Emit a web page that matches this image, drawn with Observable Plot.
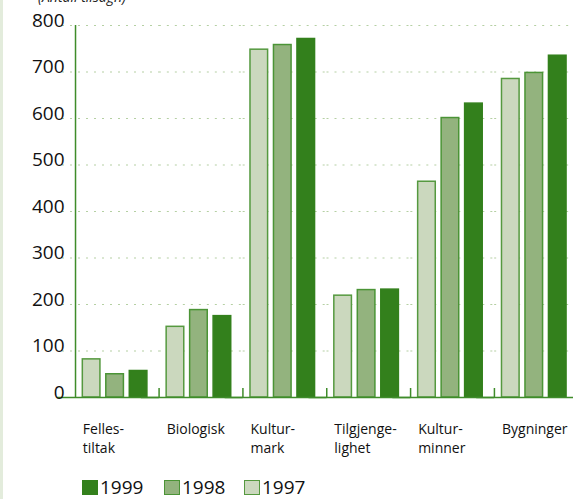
<!DOCTYPE html>
<html>
<head>
<meta charset="utf-8">
<script src="https://cdn.jsdelivr.net/npm/d3@7"></script>
<script src="https://cdn.jsdelivr.net/npm/@observablehq/plot@0.6"></script>
<style>
  html, body { margin: 0; padding: 0; background: #fff; }
  body { width: 573px; height: 499px; position: relative; overflow: hidden; font-family: "Open Sans", sans-serif; }
  #strip { position: absolute; left: 0; top: 0; width: 3px; height: 499px; background: #e3ecdc; }
  #title { position: absolute; left: 38px; top: -10px; font-size: 14px; line-height: 14px; font-style: italic; color: #222; white-space: nowrap; }
  #chart { position: absolute; left: 0; top: 0; }
  #legend { position: absolute; left: 82px; top: 477px; display: flex; font-size: 19px; line-height: 20px; color: #111; }
  .item { display: flex; align-items: center; }
  .sw { width: 16px; height: 15px; margin-right: 2px; box-sizing: border-box; border: 1.5px solid #4b9436; }
</style>
</head>
<body>
<div id="strip"></div>
<div id="chart"></div>
<div id="title">(Antall tilsagn)</div>
<div id="legend"></div>
<script>
const categories = ["Felles-tiltak", "Biologisk", "Kultur-mark", "Tilgjenge-lighet", "Kultur-minner", "Bygninger"];
const categoryLabels = ["Felles-\ntiltak", "Biologisk", "Kultur-\nmark", "Tilgjenge-\nlighet", "Kultur-\nminner", "Bygninger"];
const years = [1997, 1998, 1999];
const values1997 = [82, 152, 748, 219, 464, 685];
const values1998 = [50, 188, 758, 231, 601, 698];
const values1999 = [57, 175, 771, 232, 632, 735];
const yTicks = [0, 100, 200, 300, 400, 500, 600, 700, 800];
const legendOrder = [1999, 1998, 1997];

const fills = {1997: "#cbd8be", 1998: "#93b37e", 1999: "#33801c"};
const strokes = {1997: "#55993f", 1998: "#4b9436", 1999: "#33801c"};
const green = "#3f8c2a";

const seriesByYear = {1997: values1997, 1998: values1998, 1999: values1999};
const rows = years.flatMap(y => categories.map((c, i) => ({cat: c, year: y, value: seriesByYear[y][i]})));
const gridFirst = yTicks.filter(t => t > 0).map(t => ({cat: categories[0], y: t}));
const gridRest = categories.slice(1).flatMap(c => yTicks.filter(t => t > 0).map(t => ({cat: c, y: t})));
const labelOf = Object.fromEntries(categories.map((c, i) => [c, categoryLabels[i]]));

const barMarks = years.map(y => Plot.barY(rows.filter(d => d.year === y), {
  fx: "cat", x: "year", y: "value", fill: fills[y], stroke: strokes[y], strokeWidth: 1.5
}));

const chart = Plot.plot({
  width: 573,
  height: 470,
  marginLeft: 75,
  marginRight: -5,
  marginTop: 25,
  marginBottom: 73,
  style: {fontFamily: "Open Sans", background: "transparent", overflow: "visible"},
  fx: {domain: categories, padding: 0, round: false, label: null},
  x: {domain: years, paddingInner: 0.25, paddingOuter: 0.41, align: 0.38, round: false, axis: null},
  y: {domain: [0, 800], axis: null},
  marks: [
    Plot.ruleY(gridFirst, {fx: "cat", y: "y", stroke: "#b5d0a3", strokeWidth: 1.2, strokeDasharray: "2,6", insetLeft: -13}),
    Plot.ruleY(gridRest, {fx: "cat", y: "y", stroke: "#b5d0a3", strokeWidth: 1.2, strokeDasharray: "2,6"}),
    ...barMarks,
    Plot.ruleX(rows.filter(d => d.year === 1999), {fx: "cat", x: "year", dx: 20.5, insetTop: 363, stroke: green, strokeWidth: 1.5}),
    Plot.ruleX(rows.filter(d => d.year === 1997 && d.cat === categories[0]), {fx: "cat", x: "year", dx: -16.1, stroke: green, strokeWidth: 1.5}),
    Plot.ruleY([0], {stroke: green, strokeWidth: 1.5, insetLeft: -18}),
    Plot.axisY(yTicks, {anchor: "left", tickSize: 0, tickPadding: 11, fontSize: 19, dy: -5, fill: "#111", label: null}),
    Plot.axisFx({anchor: "bottom", tickSize: 0, tickPadding: 24, textAnchor: "start", dx: -34.6, fontSize: 14, lineHeight: 1.3, fill: "#111", tickFormat: d => labelOf[d], label: null})
  ]
});
document.getElementById("chart").appendChild(chart);

const legend = document.getElementById("legend");
const widths = {1999: 82, 1998: 80, 1997: 80};
for (const y of legendOrder) {
  const item = document.createElement("div");
  item.className = "item";
  item.style.width = widths[y] + "px";
  const sw = document.createElement("div");
  sw.className = "sw";
  sw.style.background = fills[y];
  sw.style.borderColor = y === 1999 ? fills[y] : strokes[y];
  const tx = document.createElement("span");
  tx.textContent = String(y);
  item.appendChild(sw);
  item.appendChild(tx);
  legend.appendChild(item);
}
</script>
</body>
</html>
